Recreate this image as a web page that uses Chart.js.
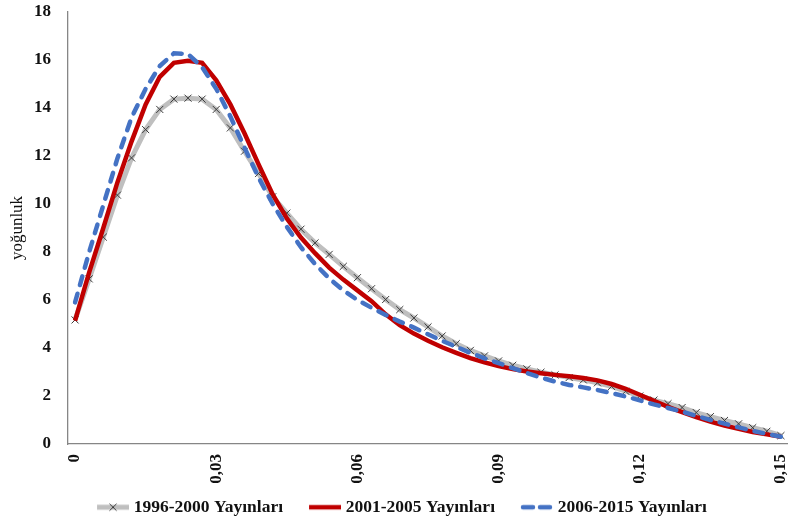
<!DOCTYPE html>
<html><head><meta charset="utf-8">
<script src="https://cdn.jsdelivr.net/npm/chart.js@4.4.1/dist/chart.umd.min.js"></script>
<style>html,body{margin:0;padding:0;background:#fff}canvas{display:block}</style>
</head><body>
<canvas id="c" width="788" height="522"></canvas>
<script>
// x categories (0 .. 0.15, step 0.003)
const categories = [0,0.003,0.006,0.009,0.012,0.015,0.018,0.021,0.024,0.027,
  0.03,0.033,0.036,0.039,0.042,0.045,0.048,0.051,0.054,0.057,
  0.06,0.063,0.066,0.069,0.072,0.075,0.078,0.081,0.084,0.087,
  0.09,0.093,0.096,0.099,0.102,0.105,0.108,0.111,0.114,0.117,
  0.12,0.123,0.126,0.129,0.132,0.135,0.138,0.141,0.144,0.147,0.15];
const xTickLabels = ['0','0,03','0,06','0,09','0,12','0,15'];
const seriesNames = ['1996-2000 Yayınları','2001-2005 Yayınları','2006-2015 Yayınları'];
const yTitle = 'yoğunluk';

const s1996 = [5.17,6.88,8.62,10.37,11.92,13.10,13.94,14.37,14.41,14.37,
  13.94,13.17,12.2,11.27,10.3,9.62,8.95,8.38,7.9,7.4,
  6.93,6.47,6.02,5.6,5.25,4.88,4.5,4.18,3.9,3.67,
  3.46,3.28,3.13,2.99,2.88,2.77,2.67,2.55,2.4,2.2,
  2.0,1.83,1.68,1.52,1.31,1.14,0.98,0.84,0.68,0.53,0.35];
const s2001 = [5.14,7.15,9.0,10.9,12.6,14.15,15.3,15.88,15.97,15.88,
  15.15,14.15,12.95,11.65,10.4,9.4,8.6,7.95,7.35,6.85,
  6.4,5.95,5.4,4.95,4.6,4.3,4.03,3.8,3.58,3.4,
  3.25,3.12,3.02,2.95,2.88,2.82,2.75,2.65,2.5,2.3,
  2.05,1.8,1.55,1.33,1.12,0.93,0.77,0.63,0.5,0.4,0.3];
const s2006 = [5.9,8.0,9.95,11.9,13.6,14.8,15.75,16.28,16.25,15.7,
  14.8,13.65,12.35,11.1,10.0,9.05,8.2,7.5,6.9,6.4,
  6.0,5.68,5.38,5.1,4.85,4.57,4.3,4.05,3.8,3.57,
  3.37,3.16,2.96,2.77,2.6,2.46,2.36,2.25,2.12,1.98,
  1.82,1.65,1.5,1.35,1.17,1.0,0.85,0.69,0.55,0.42,0.3];

const GRAY = '#BFBFBF', MARK = '#3A3A3A', RED = '#C00000', BLUE = '#4472C4';
const FONT = 'Liberation Serif';

// legend samples: 52px canvas, line drawn in right part (x 20..52)
function sample(kind){
  const c = document.createElement('canvas'); c.width = 52; c.height = 12;
  const g = c.getContext('2d');
  g.lineCap = 'butt';
  if (kind === 0){
    g.strokeStyle = GRAY; g.lineWidth = 5;
    g.beginPath(); g.moveTo(20,6); g.lineTo(52,6); g.stroke();
    g.strokeStyle = MARK; g.lineWidth = 1;
    g.beginPath(); g.moveTo(32.5,2.5); g.lineTo(39.5,9.5); g.moveTo(39.5,2.5); g.lineTo(32.5,9.5); g.stroke();
  } else if (kind === 1){
    g.strokeStyle = RED; g.lineWidth = 4.5;
    g.beginPath(); g.moveTo(20,6); g.lineTo(52,6); g.stroke();
  } else {
    g.strokeStyle = BLUE; g.lineWidth = 4.5; g.lineCap = 'round';
    g.setLineDash([10,7]);
    g.beginPath(); g.moveTo(22,6); g.lineTo(50,6); g.stroke();
  }
  return c;
}
const legendSamples = [sample(0), sample(1), sample(2)];

function zeroPad(s){ s.paddingTop = 0; s.paddingBottom = 0; s.paddingLeft = 0; s.paddingRight = 0; }

new Chart(document.getElementById('c'), {
  type: 'line',
  data: {
    labels: categories,
    datasets: [
      {label: seriesNames[0], data: s1996, borderColor: GRAY, borderWidth: 5, tension: 0,
       pointStyle: 'crossRot', pointRadius: 5, pointBorderColor: MARK, pointBorderWidth: 1,
       pointBackgroundColor: 'rgba(0,0,0,0)', order: 3},
      {label: seriesNames[1], data: s2001, borderColor: RED, borderWidth: 4.5, tension: 0,
       pointRadius: 0, order: 2},
      {label: seriesNames[2], data: s2006, borderColor: BLUE, borderWidth: 4.5, tension: 0,
       borderDash: [9,9], borderCapStyle: 'round', pointRadius: 0, order: 1}
    ]
  },
  options: {
    responsive: false, animation: false, devicePixelRatio: 1,
    layout: {autoPadding: false, padding: {top: 12, right: 0, left: 0, bottom: 0}},
    plugins: {
      tooltip: {enabled: false},
      legend: {
        position: 'bottom', maxHeight: 33.5,
        labels: {
          usePointStyle: true, pointStyleWidth: 44, padding: 10,
          color: '#111', font: {family: FONT, size: 17.5, weight: 'bold'},
          generateLabels(chart){
            const items = Chart.defaults.plugins.legend.labels.generateLabels(chart);
            items.sort((a,b) => a.datasetIndex - b.datasetIndex);
            items.forEach(it => { it.pointStyle = legendSamples[it.datasetIndex]; it.lineWidth = 0; });
            return items;
          }
        }
      }
    },
    scales: {
      x: {
        type: 'category', offset: true,
        grid: {display: true, drawOnChartArea: false, drawTicks: false},
        border: {display: true, color: '#868686', width: 1.3},
        ticks: {autoSkip: false, minRotation: 90, maxRotation: 90, padding: 10,
          color: '#111', font: {family: FONT, size: 17, weight: 'bold'},
          callback: (v, i) => (i % 10 === 0 ? xTickLabels[i / 10] : null)},
        afterFit: s => { s.height = 44.5; zeroPad(s); }
      },
      y: {
        min: 0, max: 18,
        grid: {display: true, drawOnChartArea: false, drawTicks: false},
        border: {display: true, color: '#868686', width: 1.3},
        ticks: {stepSize: 2, padding: 17, color: '#111', font: {family: FONT, size: 17, weight: 'bold'}},
        title: {display: true, text: yTitle, color: '#111', font: {family: FONT, size: 17}, padding: {top: 7, bottom: 0}},
        afterFit: s => { s.width = 68; zeroPad(s); }
      }
    }
  }
});
</script>
</body></html>
